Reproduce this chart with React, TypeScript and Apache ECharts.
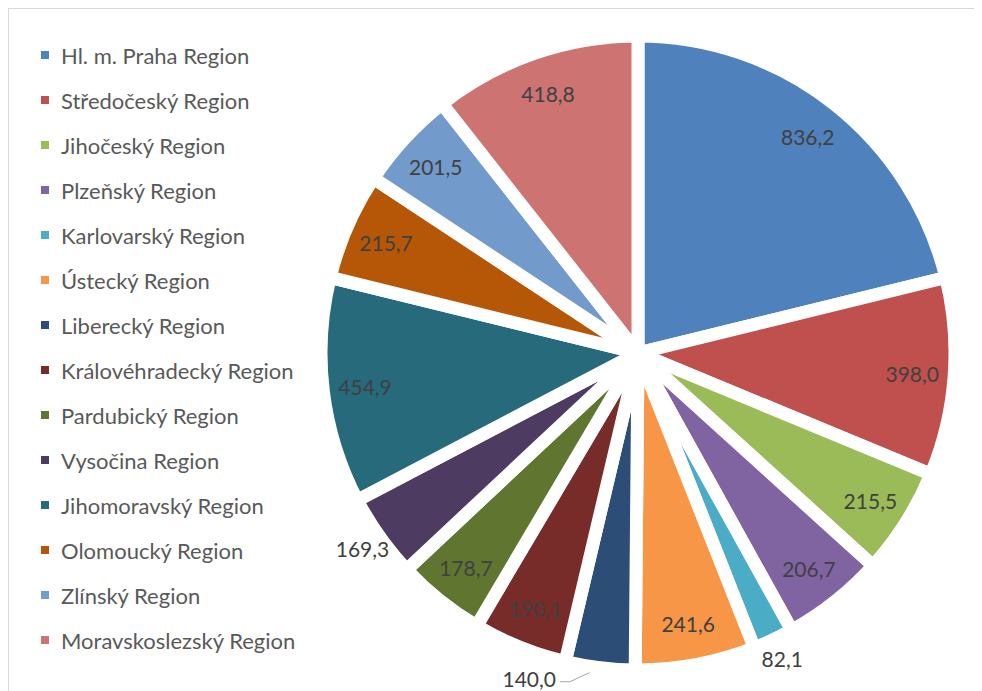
import React, { useEffect, useRef } from 'react';
import * as echarts from 'echarts';

const regions = [
  'Hl. m. Praha Region',
  'Středočeský Region',
  'Jihočeský Region',
  'Plzeňský Region',
  'Karlovarský Region',
  'Ústecký Region',
  'Liberecký Region',
  'Královéhradecký Region',
  'Pardubický Region',
  'Vysočina Region',
  'Jihomoravský Region',
  'Olomoucký Region',
  'Zlínský Region',
  'Moravskoslezský Region',
];

const values = [836.2, 398.0, 215.5, 206.7, 82.1, 241.6, 140.0, 190.1, 178.7, 169.3, 454.9, 215.7, 201.5, 418.8];

const colors = [
  '#4F81BD', '#C0504D', '#9BBB59', '#8064A2', '#4BACC6', '#F79646', '#2C4D75',
  '#772C2A', '#5F7530', '#4D3B62', '#276A7C', '#B65708', '#729ACA', '#CD7371',
];

const outerLabelRegions = ['Karlovarský Region', 'Vysočina Region'];
const leaderLabelRegions = ['Liberecký Region'];

const fmt = (v: number) => v.toFixed(1).replace('.', ',');

const FONT = 'Lato, "Open Sans", sans-serif';
const CENTER = [629, 344];

export default function App() {
  const ref = useRef<HTMLDivElement>(null);

  useEffect(() => {
    if (!ref.current) return;
    const chart = echarts.init(ref.current, undefined, { renderer: 'svg' });

    const labelText = { fontFamily: FONT, fontSize: 21, color: '#404040' };

    const mainData = regions.map((name, i) => {
      const lead = leaderLabelRegions.includes(name);
      return {
        name,
        value: values[i],
        itemStyle: { color: colors[i] },
        label: lead
          ? { show: true, position: 'outside', formatter: (p: any) => fmt(p.value), ...labelText }
          : { show: false },
        labelLine: lead
          ? { show: true, length: 12, length2: 10, lineStyle: { color: '#A6A6A6', width: 1 } }
          : { show: false },
      };
    });

    const ringData = (pred: (name: string) => boolean) =>
      regions.map((name, i) => ({
        name,
        value: values[i],
        label: { show: pred(name) },
      }));

    const insidePred = (n: string) => !outerLabelRegions.includes(n) && !leaderLabelRegions.includes(n);
    const outerPred = (n: string) => outerLabelRegions.includes(n);

    const labelSeries = (radius: number[], pred: (n: string) => boolean) => ({
      type: 'pie',
      radius,
      center: CENTER,
      startAngle: 90,
      clockwise: true,
      silent: true,
      avoidLabelOverlap: false,
      itemStyle: { color: 'rgba(0,0,0,0)', borderWidth: 0 },
      emphasis: { disabled: true },
      label: {
        position: 'inside',
        rotate: 0,
        formatter: (p: any) => fmt(p.value),
        ...labelText,
      },
      labelLine: { show: false },
      data: ringData(pred),
    });

    chart.setOption({
      animation: false,
      backgroundColor: '#ffffff',
      legend: {
        data: regions,
        orient: 'vertical',
        left: 25,
        top: 30,
        itemWidth: 10,
        itemHeight: 10,
        itemGap: 23,
        icon: 'rect',
        selectedMode: false,
        textStyle: {
          fontFamily: FONT,
          fontSize: 22,
          lineHeight: 20,
          color: '#595959',
          padding: [0, 0, 0, 6],
        },
      },
      series: [
        {
          type: 'pie',
          radius: 317,
          center: CENTER,
          startAngle: 90,
          clockwise: true,
          avoidLabelOverlap: false,
          emphasis: { disabled: true },
          itemStyle: { borderColor: '#ffffff', borderWidth: 13 },
          data: mainData,
          labelLayout: (params: any) => {
            const pts = params.labelLinePoints;
            if (!pts || !pts.length) return {};
            const p1 = pts[0];
            const p2 = [p1[0] - 30, p1[1] + 14];
            const p3 = [p2[0] - 10, p2[1]];
            return {
              x: p3[0] - 4,
              y: p3[1] - 3,
              align: 'right',
              verticalAlign: 'middle',
              labelLinePoints: [p1, p2, p3],
            };
          },
        },
        labelSeries([240, 304], insidePred),
        labelSeries([300, 370], outerPred),
      ],
    });

    return () => chart.dispose();
  }, []);

  return (
    <div
      ref={ref}
      style={{
        width: 974,
        height: 683,
        boxSizing: 'border-box',
        borderTop: '1px solid #D9D9D9',
        borderLeft: '1px solid #D9D9D9',
      }}
    />
  );
}
